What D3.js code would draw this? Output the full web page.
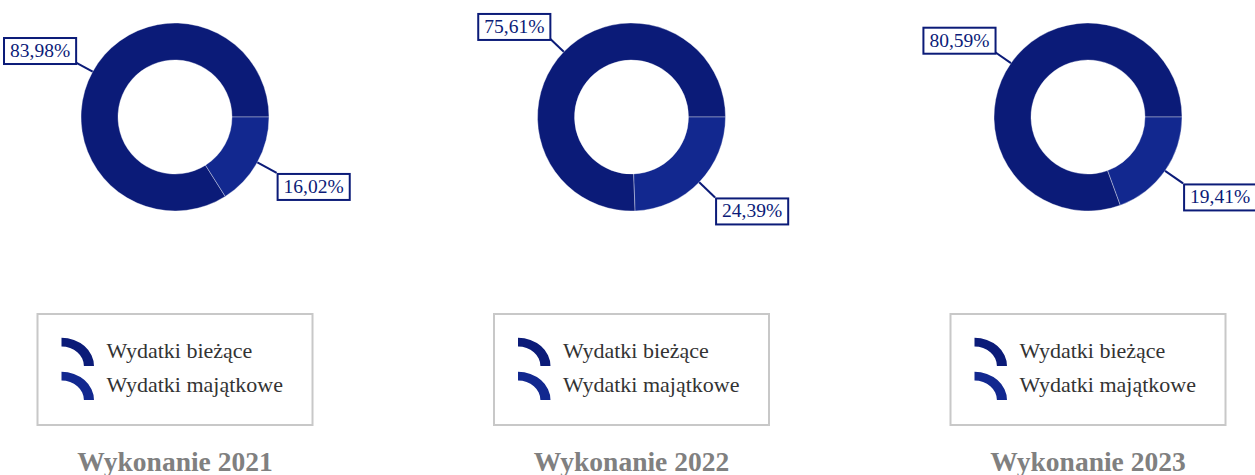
<!DOCTYPE html>
<html>
<head>
<meta charset="utf-8">
<script src="https://cdn.jsdelivr.net/npm/d3@7"></script>
<style>
  body { margin: 0; background: #fff; }
  text { font-family: "Liberation Serif", "Times New Roman", serif; }
</style>
</head>
<body>
<svg id="chart" width="1255" height="475"></svg>
<script>
// values
var years = ["2021", "2022", "2023"];
var categories = ["Wydatki bieżące", "Wydatki majątkowe"];
var biezace = [83.98, 75.61, 80.59];
var majatkowe = [16.02, 24.39, 19.41];
var colors = ["#0b1b78", "#12288f"];

var svg = d3.select("#chart");

// panel centres
var xPanel = d3.scalePoint()
    .domain(years)
    .range([175, 1088]);

var color = d3.scaleOrdinal()
    .domain(categories)
    .range(colors);

var outerR = 94, innerR = 57, cy = 117;

var pie = d3.pie()
    .sort(null)
    .value(function (d) { return d.v; })
    .startAngle(Math.PI / 2)
    .endAngle(Math.PI / 2 - 2 * Math.PI);

var arc = d3.arc()
    .innerRadius(innerR)
    .outerRadius(outerR);

var fmt = function (v) { return v.toFixed(2).replace(".", ",") + "%"; };

years.forEach(function (year, i) {
    var cx = xPanel(year);
    var rows = [
        { k: categories[0], v: biezace[i] },
        { k: categories[1], v: majatkowe[i] }
    ];
    var g = svg.append("g").attr("transform", "translate(" + cx + "," + cy + ")");

    // donut slices
    g.selectAll("path.slice")
        .data(pie(rows))
        .enter()
        .append("path")
        .attr("class", "slice")
        .attr("d", arc)
        .attr("fill", function (d) { return color(d.data.k); })
        .attr("stroke", "#fff")
        .attr("stroke-width", 0.6)
        .attr("stroke-opacity", 0.6);

    // labels with leader lines
    pie(rows).forEach(function (d) {
        var mid = (d.startAngle + d.endAngle) / 2;
        var sx = Math.sin(mid), sy = -Math.cos(mid);
        var len = sy > 0 ? 22 : 20;
        var p0 = [sx * outerR, sy * outerR];
        var p1 = [sx * (outerR + len), sy * (outerR + len)];

        g.append("line")
            .attr("x1", p0[0]).attr("y1", p0[1])
            .attr("x2", p1[0]).attr("y2", p1[1])
            .attr("stroke", "#0b1b78")
            .attr("stroke-width", 2);

        var lab = g.append("g");
        var rect = lab.append("rect");
        var t = lab.append("text")
            .text(fmt(d.data.v))
            .style("font-size", "19.5px")
            .attr("fill", "#0b1b78")
            .attr("text-anchor", "middle");
        var bb = t.node().getBBox();
        var w = bb.width + 12, h = 26;
        var left = sx < 0 ? p1[0] + 1 - w : p1[0] + 1;
        var top = sy < 0 ? p1[1] + 2 - h : p1[1] + 1;
        rect.attr("x", left).attr("y", top)
            .attr("width", w).attr("height", h)
            .attr("fill", "#fff")
            .attr("stroke", "#0b1b78")
            .attr("stroke-width", 2);
        t.attr("x", left + w / 2).attr("y", top + 19);
    });

    // legend
    var lw = 275, lh = 111, lx = cx - lw / 2, ly = 314;
    var leg = svg.append("g");
    leg.append("rect")
        .attr("x", lx).attr("y", ly)
        .attr("width", lw).attr("height", lh)
        .attr("fill", "#fff")
        .attr("stroke", "#c8c8c8")
        .attr("stroke-width", 2);

    var icon = d3.arc()
        .innerRadius(20)
        .outerRadius(29)
        .startAngle(0)
        .endAngle(Math.PI / 2);

    var items = leg.selectAll("g.item")
        .data(categories)
        .enter()
        .append("g")
        .attr("class", "item")
        .attr("transform", function (d, j) { return "translate(" + (lx + 24) + "," + (ly + 24 + j * 34) + ")"; });

    items.append("path")
        .attr("d", icon)
        .attr("transform", "translate(0,28) scale(1.12,0.97)")
        .attr("fill", function (d) { return color(d); });

    items.append("text")
        .attr("x", 45)
        .attr("y", 20)
        .text(function (d) { return d; })
        .style("font-size", "22px")
        .attr("fill", "#333");

    // panel title
    svg.append("text")
        .attr("x", cx)
        .attr("y", 471)
        .attr("text-anchor", "middle")
        .text("Wykonanie " + year)
        .style("font-size", "27.5px")
        .style("font-weight", "bold")
        .attr("fill", "#808080");
});
</script>
</body>
</html>
